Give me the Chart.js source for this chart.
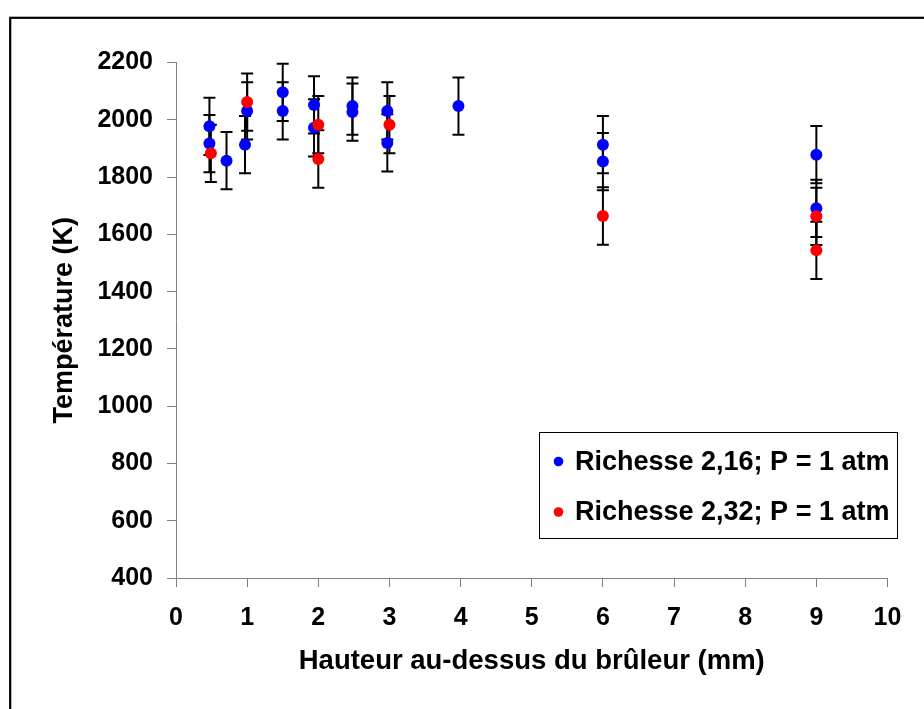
<!DOCTYPE html>
<html><head><meta charset="utf-8">
<script src="https://cdn.jsdelivr.net/npm/chart.js@4.4.0/dist/chart.umd.min.js"></script>
<style>html,body{margin:0;padding:0;background:#fff;overflow:hidden}#wrap{width:924px;height:709px;position:relative}</style>
</head><body><div id="wrap"><canvas id="c" width="924" height="709"></canvas></div>
<script>
// ---- data ----
const seriesLabels = ['Richesse 2,16; P = 1 atm', 'Richesse 2,32; P = 1 atm'];
const blueX   = [0.47, 0.47, 0.71, 0.97, 1.0, 1.5, 1.5, 1.94, 1.94, 2.48, 2.48, 2.97, 2.97, 3.97, 6.0, 6.0, 9.0, 9.0];
const blueY   = [1977, 1917, 1857, 1913, 2031, 2096, 2031, 2052, 1972, 2048, 2027, 2031, 1919, 2048, 1913, 1854, 1878, 1691];
const blueErr = [100, 100, 100, 100, 100, 100, 100, 100, 100, 100, 100, 100, 100, 100, 100, 100, 100, 100];
const redX    = [0.49, 1.0, 2.0, 2.0, 3.0, 6.0, 9.0, 9.0];
const redY    = [1883, 2062, 1983, 1863, 1983, 1664, 1663, 1544];
const redErr  = [100, 100, 100, 100, 100, 100, 100, 100];
const xTickValues = [0, 1, 2, 3, 4, 5, 6, 7, 8, 9, 10];
const yTickValues = [400, 600, 800, 1000, 1200, 1400, 1600, 1800, 2000, 2200];
const xTitle = 'Hauteur au-dessus du brûleur (mm)';
const yTitle = 'Température (K)';

const FONT = "'Liberation Sans', Arial, sans-serif";
const toPts = (xs, ys, es) => xs.map((v, i) => ({x: v, y: ys[i], err: es[i]}));

const framePlugin = {
  id: 'frame',
  beforeDraw(chart) {
    const ctx = chart.ctx;
    ctx.save();
    ctx.fillStyle = '#fff';
    ctx.fillRect(0, 0, chart.width, chart.height);
    ctx.strokeStyle = '#000';
    ctx.lineWidth = 2.2;
    ctx.strokeRect(10.2, 17.8, 2000, 2000);
    ctx.restore();
  }
};

const errorBarPlugin = {
  id: 'errorBars',
  beforeDatasetsDraw(chart) {
    const {ctx, scales: {x, y}} = chart;
    ctx.save();
    ctx.strokeStyle = '#000';
    ctx.lineWidth = 2;
    chart.data.datasets.forEach(ds => {
      ds.data.forEach(p => {
        const px = x.getPixelForValue(p.x);
        const top = y.getPixelForValue(p.y + p.err);
        const bot = y.getPixelForValue(p.y - p.err);
        ctx.beginPath();
        ctx.moveTo(px, top); ctx.lineTo(px, bot);
        ctx.moveTo(px - 6, top); ctx.lineTo(px + 6, top);
        ctx.moveTo(px - 6, bot); ctx.lineTo(px + 6, bot);
        ctx.stroke();
      });
    });
    ctx.restore();
  }
};

const legendPlugin = {
  id: 'boxLegend',
  afterDraw(chart) {
    const ctx = chart.ctx;
    ctx.save();
    ctx.fillStyle = '#fff';
    ctx.fillRect(539.5, 432.5, 358, 106);
    ctx.strokeStyle = '#000';
    ctx.lineWidth = 1;
    ctx.strokeRect(539.5, 432.5, 358, 106);
    const rows = [461.5, 512];
    chart.data.datasets.forEach((ds, i) => {
      ctx.beginPath();
      ctx.fillStyle = ds.backgroundColor;
      ctx.arc(558.5, rows[i], 4.8, 0, Math.PI * 2);
      ctx.fill();
      ctx.fillStyle = '#000';
      ctx.font = 'bold 27px ' + FONT;
      ctx.textBaseline = 'middle';
      ctx.textAlign = 'left';
      ctx.fillText(ds.label, 575, rows[i] + 1);
    });
    ctx.restore();
  }
};

new Chart(document.getElementById('c'), {
  type: 'scatter',
  data: {
    datasets: [
      {label: seriesLabels[0], data: toPts(blueX, blueY, blueErr), backgroundColor: '#0000FF', borderColor: '#0000FF', pointRadius: 6, pointBorderWidth: 0, order: 2},
      {label: seriesLabels[1], data: toPts(redX, redY, redErr), backgroundColor: '#FF0000', borderColor: '#FF0000', pointRadius: 6, pointBorderWidth: 0, order: 1}
    ]
  },
  options: {
    responsive: false,
    animation: false,
    devicePixelRatio: 1,
    layout: {padding: {left: 0, top: 62.5, right: 36.5, bottom: 0}},
    plugins: {legend: {display: false}, tooltip: {enabled: false}},
    scales: {
      x: {
        type: 'linear', min: 0, max: 10,
        afterBuildTicks: s => { s.ticks = xTickValues.map(v => ({value: v})); },
        afterFit: s => { s.height = 131; },
        grid: {drawOnChartArea: false, drawTicks: true, tickLength: 9, color: '#808080', lineWidth: 1},
        border: {display: true, color: '#808080', width: 1},
        ticks: {color: '#000', padding: 16, callback: v => String(v), font: {family: FONT, size: 25, weight: 'bold'}, maxRotation: 0},
        title: {display: true, text: xTitle, color: '#000', padding: {top: 0, bottom: 31}, font: {family: FONT, size: 27.5, weight: 'bold'}}
      },
      y: {
        type: 'linear', min: 400, max: 2200,
        afterBuildTicks: s => { s.ticks = yTickValues.map(v => ({value: v})); },
        afterFit: s => { s.width = 176; },
        grid: {drawOnChartArea: false, drawTicks: true, tickLength: 9, color: '#808080', lineWidth: 1},
        border: {display: true, color: '#808080', width: 1},
        ticks: {color: '#000', padding: 14, callback: v => String(v), font: {family: FONT, size: 25, weight: 'bold'}},
        title: {display: true, text: yTitle, color: '#000', padding: {top: 48, bottom: 0}, font: {family: FONT, size: 27, weight: 'bold'}}
      }
    }
  },
  plugins: [framePlugin, errorBarPlugin, legendPlugin]
});
</script>
</body></html>
